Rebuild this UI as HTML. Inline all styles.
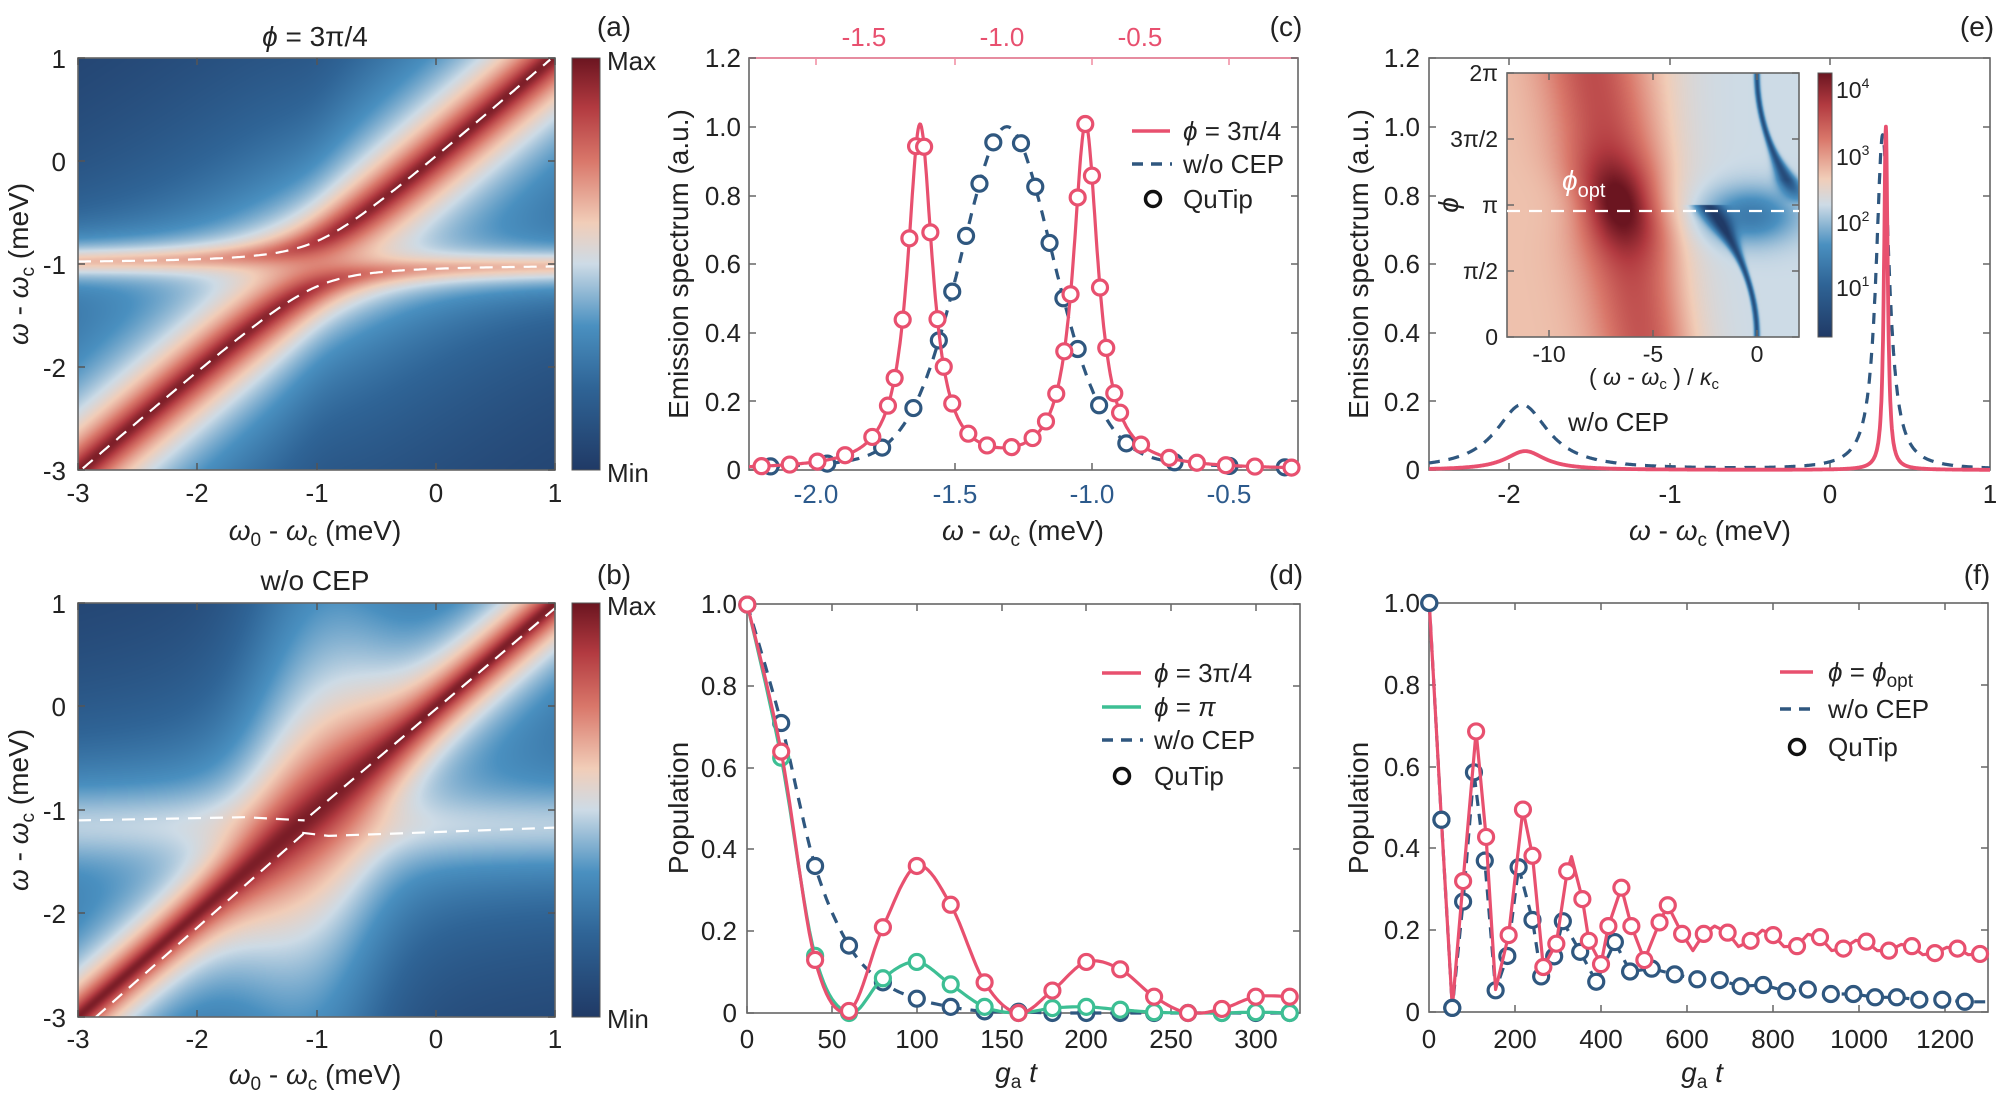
<!DOCTYPE html>
<html><head><meta charset="utf-8">
<style>
html,body{margin:0;padding:0;background:#fff;}
#wrap{position:relative;width:2000px;height:1095px;overflow:hidden;}
canvas{position:absolute;}
svg{position:absolute;left:0;top:0;}
text{font-family:"Liberation Sans",Arial,sans-serif;fill:#222;}
.t{font-size:26px;}
.l{font-size:28px;}
.s{font-size:23px;}
</style></head><body>
<div id="wrap">
<canvas id="ca" width="477" height="412" style="left:78px;top:58px"></canvas>
<canvas id="cb" width="477" height="414" style="left:78px;top:603px"></canvas>
<canvas id="ci" width="292" height="264" style="left:1507px;top:73px"></canvas>
<svg id="sv" width="2000" height="1095" viewBox="0 0 2000 1095">
<defs>
<linearGradient id="cmap" x1="0" y1="1" x2="0" y2="0">
<stop offset="0" stop-color="#203a66"/><stop offset="0.2" stop-color="#2f6496"/>
<stop offset="0.35" stop-color="#4a90c0"/><stop offset="0.5" stop-color="#cddbe6"/>
<stop offset="0.6" stop-color="#f1cdb8"/><stop offset="0.75" stop-color="#d9776a"/>
<stop offset="0.88" stop-color="#b23a40"/><stop offset="1" stop-color="#6b1520"/>
</linearGradient>
</defs>
<g id="dyn"></g>
<rect x="572" y="58" width="28" height="412" fill="url(#cmap)" stroke="#555" stroke-width="1"/>
<rect x="572" y="603" width="28" height="414" fill="url(#cmap)" stroke="#555" stroke-width="1"/>
<rect x="1818" y="73" width="14" height="264" fill="url(#cmap)" stroke="#555" stroke-width="1"/>
<text class="l" x="315" y="46" text-anchor="middle"><tspan font-style="italic">ϕ</tspan> = 3π/4</text>
<text class="l" x="614" y="36" text-anchor="middle">(a)</text>
<text class="t" x="607" y="70">Max</text><text class="t" x="607" y="482">Min</text>
<g class="t" text-anchor="end">
<text x="66" y="68">1</text><text x="66" y="171">0</text><text x="66" y="274">-1</text><text x="66" y="377">-2</text><text x="66" y="480">-3</text></g>
<g class="t" text-anchor="middle">
<text x="78" y="502">-3</text><text x="197" y="502">-2</text><text x="317" y="502">-1</text><text x="436" y="502">0</text><text x="555" y="502">1</text></g>
<text class="l" x="315" y="540" text-anchor="middle"><tspan font-style="italic">ω</tspan><tspan font-size="19" dy="6">0</tspan><tspan dy="-6"> - </tspan><tspan font-style="italic">ω</tspan><tspan font-size="19" dy="6">c</tspan><tspan dy="-6"> (meV)</tspan></text>
<text class="l" transform="translate(28,264) rotate(-90)" text-anchor="middle"><tspan font-style="italic">ω</tspan> - <tspan font-style="italic">ω</tspan><tspan font-size="19" dy="6">c</tspan><tspan dy="-6"> (meV)</tspan></text>
<text class="l" x="315" y="590" text-anchor="middle">w/o CEP</text>
<text class="l" x="614" y="584" text-anchor="middle">(b)</text>
<text class="t" x="607" y="615">Max</text><text class="t" x="607" y="1028">Min</text>
<g class="t" text-anchor="end">
<text x="66" y="613">1</text><text x="66" y="716">0</text><text x="66" y="820">-1</text><text x="66" y="923">-2</text><text x="66" y="1027">-3</text></g>
<g class="t" text-anchor="middle">
<text x="78" y="1048">-3</text><text x="197" y="1048">-2</text><text x="317" y="1048">-1</text><text x="436" y="1048">0</text><text x="555" y="1048">1</text></g>
<text class="l" x="315" y="1084" text-anchor="middle"><tspan font-style="italic">ω</tspan><tspan font-size="19" dy="6">0</tspan><tspan dy="-6"> - </tspan><tspan font-style="italic">ω</tspan><tspan font-size="19" dy="6">c</tspan><tspan dy="-6"> (meV)</tspan></text>
<text class="l" transform="translate(28,810) rotate(-90)" text-anchor="middle"><tspan font-style="italic">ω</tspan> - <tspan font-style="italic">ω</tspan><tspan font-size="19" dy="6">c</tspan><tspan dy="-6"> (meV)</tspan></text>
<text class="l" x="1286" y="36" text-anchor="middle">(c)</text>
<g class="t" text-anchor="end">
<text x="741" y="67">1.2</text><text x="741" y="136">1.0</text><text x="741" y="205">0.8</text><text x="741" y="273">0.6</text><text x="741" y="342">0.4</text><text x="741" y="411">0.2</text><text x="741" y="479">0</text></g>
<g class="t" text-anchor="middle">
<text x="816" y="503" style="fill:#2c5a8c">-2.0</text><text x="955" y="503" style="fill:#2c5a8c">-1.5</text><text x="1092" y="503" style="fill:#2c5a8c">-1.0</text><text x="1229" y="503" style="fill:#2c5a8c">-0.5</text></g>
<g class="t" text-anchor="middle">
<text x="864" y="46" style="fill:#e8506f">-1.5</text><text x="1002" y="46" style="fill:#e8506f">-1.0</text><text x="1140" y="46" style="fill:#e8506f">-0.5</text></g>
<text class="l" x="1023" y="540" text-anchor="middle"><tspan font-style="italic">ω</tspan> - <tspan font-style="italic">ω</tspan><tspan font-size="19" dy="6">c</tspan><tspan dy="-6"> (meV)</tspan></text>
<text class="l" transform="translate(688,264) rotate(-90)" text-anchor="middle">Emission spectrum (a.u.)</text>
<text class="t" x="1183" y="140"><tspan font-style="italic">ϕ</tspan> = 3π/4</text>
<text class="t" x="1183" y="173">w/o CEP</text>
<text class="t" x="1183" y="208">QuTip</text>
<text class="l" x="1977" y="36" text-anchor="middle">(e)</text>
<g class="t" text-anchor="end">
<text x="1420" y="67">1.2</text><text x="1420" y="136">1.0</text><text x="1420" y="205">0.8</text><text x="1420" y="273">0.6</text><text x="1420" y="342">0.4</text><text x="1420" y="411">0.2</text><text x="1420" y="479">0</text></g>
<g class="t" text-anchor="middle">
<text x="1509" y="503">-2</text><text x="1670" y="503">-1</text><text x="1830" y="503">0</text><text x="1990" y="503">1</text></g>
<text class="l" x="1710" y="540" text-anchor="middle"><tspan font-style="italic">ω</tspan> - <tspan font-style="italic">ω</tspan><tspan font-size="19" dy="6">c</tspan><tspan dy="-6"> (meV)</tspan></text>
<text class="l" transform="translate(1368,264) rotate(-90)" text-anchor="middle">Emission spectrum (a.u.)</text>
<text class="t" x="1568" y="431">w/o CEP</text>
<g class="s" text-anchor="end">
<text x="1498" y="81">2π</text><text x="1498" y="147">3π/2</text><text x="1498" y="213">π</text><text x="1498" y="279">π/2</text><text x="1498" y="345">0</text></g>
<text class="l" transform="translate(1458,205) rotate(-90)" text-anchor="middle" font-style="italic">ϕ</text>
<g class="s" text-anchor="middle">
<text x="1549" y="362">-10</text><text x="1653" y="362">-5</text><text x="1757" y="362">0</text></g>
<text class="s" x="1654" y="385" text-anchor="middle">( <tspan font-style="italic">ω</tspan> - <tspan font-style="italic">ω</tspan><tspan font-size="15" dy="4">c</tspan><tspan dy="-4"> ) / </tspan><tspan font-style="italic">κ</tspan><tspan font-size="15" dy="4">c</tspan></text>
<text class="l" x="1562" y="190" style="fill:#fff"><tspan font-style="italic" style="fill:#fff">ϕ</tspan><tspan font-size="20" dy="7" style="fill:#fff">opt</tspan></text>
<g class="s">
<text x="1836" y="98">10<tspan font-size="14" dy="-10">4</tspan></text>
<text x="1836" y="165">10<tspan font-size="14" dy="-10">3</tspan></text>
<text x="1836" y="231">10<tspan font-size="14" dy="-10">2</tspan></text>
<text x="1836" y="296">10<tspan font-size="14" dy="-10">1</tspan></text></g>
<text class="l" x="1286" y="584" text-anchor="middle">(d)</text>
<g class="t" text-anchor="end">
<text x="737" y="613">1.0</text><text x="737" y="695">0.8</text><text x="737" y="777">0.6</text><text x="737" y="858">0.4</text><text x="737" y="940">0.2</text><text x="737" y="1022">0</text></g>
<g class="t" text-anchor="middle">
<text x="747" y="1048">0</text><text x="832" y="1048">50</text><text x="917" y="1048">100</text><text x="1002" y="1048">150</text><text x="1086" y="1048">200</text><text x="1171" y="1048">250</text><text x="1256" y="1048">300</text></g>
<text class="l" x="1016" y="1082" text-anchor="middle"><tspan font-style="italic">g</tspan><tspan font-size="19" dy="6">a</tspan><tspan dy="-6" font-style="italic"> t</tspan></text>
<text class="l" transform="translate(688,808) rotate(-90)" text-anchor="middle">Population</text>
<text class="t" x="1154" y="682"><tspan font-style="italic">ϕ</tspan> = 3π/4</text>
<text class="t" x="1154" y="716"><tspan font-style="italic">ϕ</tspan> = <tspan font-style="italic">π</tspan></text>
<text class="t" x="1154" y="749">w/o CEP</text>
<text class="t" x="1154" y="785">QuTip</text>
<text class="l" x="1977" y="584" text-anchor="middle">(f)</text>
<g class="t" text-anchor="end">
<text x="1420" y="612">1.0</text><text x="1420" y="694">0.8</text><text x="1420" y="776">0.6</text><text x="1420" y="857">0.4</text><text x="1420" y="939">0.2</text><text x="1420" y="1021">0</text></g>
<g class="t" text-anchor="middle">
<text x="1429" y="1048">0</text><text x="1515" y="1048">200</text><text x="1601" y="1048">400</text><text x="1687" y="1048">600</text><text x="1773" y="1048">800</text><text x="1859" y="1048">1000</text><text x="1945" y="1048">1200</text></g>
<text class="l" x="1702" y="1082" text-anchor="middle"><tspan font-style="italic">g</tspan><tspan font-size="19" dy="6">a</tspan><tspan dy="-6" font-style="italic"> t</tspan></text>
<text class="l" transform="translate(1368,808) rotate(-90)" text-anchor="middle">Population</text>
<text class="t" x="1828" y="681"><tspan font-style="italic">ϕ</tspan> = <tspan font-style="italic">ϕ</tspan><tspan font-size="19" dy="6">opt</tspan></text>
<text class="t" x="1828" y="718">w/o CEP</text>
<text class="t" x="1828" y="756">QuTip</text>
</svg>
</div>
<script>
(function(){
var stops=[[0,[32,58,102]],[0.2,[47,100,150]],[0.35,[74,144,192]],[0.5,[205,219,230]],[0.6,[241,205,184]],[0.75,[217,119,106]],[0.88,[178,58,64]],[1,[107,21,32]]];
function cm(v){if(v<0)v=0;if(v>1)v=1;for(var i=1;i<stops.length;i++){if(v<=stops[i][0]){var a=stops[i-1],b=stops[i],t=(v-a[0])/(b[0]-a[0]);return [a[1][0]+t*(b[1][0]-a[1][0]),a[1][1]+t*(b[1][1]-a[1][1]),a[1][2]+t*(b[1][2]-a[1][2])];}}return stops[7][1];}
function paint(id,fn){var c=document.getElementById(id),ctx=c.getContext('2d'),W=c.width,H=c.height,im=ctx.createImageData(W,H);for(var j=0;j<H;j++)for(var i=0;i<W;i++){var col=cm(fn(i/(W-1),j/(H-1)));var k=(j*W+i)*4;im.data[k]=col[0];im.data[k+1]=col[1];im.data[k+2]=col[2];im.data[k+3]=255;}ctx.putImageData(im,0,0);}
function L(d,g){return g*g/(d*d+g*g);}
var g=0.22,e=-1;
function branches(x){var m=(x+e)/2,r=Math.sqrt(Math.pow((x-e)/2,2)+g*g);var Ep=m+r,Em=m-r;
 var cp=(Ep-e)*(Ep-e)/((Ep-e)*(Ep-e)+g*g),cmn=(Em-e)*(Em-e)/((Em-e)*(Em-e)+g*g);return [[Ep,cp],[Em,cmn]];}
function lv(I){return 0.97+0.333*Math.log(I+0.0008)/Math.LN10;}
paint('ca',function(u,v){var x=-3+4*u,y=1-4*v;var br=branches(x),I=0;
 for(var k=0;k<2;k++){var E=br[k][0],c=br[k][1];I+=(0.08+0.92*c)*L(y-E,0.08+0.04*c);}
 return lv(I);});
paint('cb',function(u,v){var x=-3+4*u,y=1-4*v;var gw=0.09+0.13*Math.exp(-(x+1)*(x+1)/0.4);
 var I=L(y-x,gw)+0.03*L(y+1.15,0.3);return lv(I);});
paint('ci',function(u,v){var x=-12+14*u,ph=2*Math.PI*(1-v),s=ph-Math.PI;
 var base=0.5+0.12/(1+Math.exp((x+4)/0.8));
 var xr=-6.6-0.4*s;var r=Math.exp(-Math.pow((x-xr)/(1.9+0.5*(1-Math.exp(-s*s))),2));
 var val=base+r*(0.22+0.2*Math.exp(-s*s/1.2));
 var xd=s<0?-0.24*Math.pow(s+Math.PI,2):2.2*Math.pow((Math.PI-s)/Math.PI,2);
 var wd=0.12+0.5*Math.exp(-s*s/0.8);
 if(x>-4.5){var dip=Math.exp(-Math.pow((x-xd)/wd,2));val-=0.4*dip*(s<0?1:Math.min(1,s/0.6));
 val-=0.22*Math.exp(-Math.pow((x+0.3)/2.2,2)-Math.pow((s+0.25)/0.65,2))*(x>-3?1:Math.exp(-(x+3)*(x+3)));}
 return val;});
var NS='http://www.w3.org/2000/svg',dyn=document.getElementById('dyn');
function el(t,a){var e=document.createElementNS(NS,t);for(var k in a)e.setAttribute(k,a[k]);dyn.appendChild(e);return e;}
function pl(pts,st,w,dash){var d='';for(var i=0;i<pts.length;i++)d+=(i?'L':'M')+pts[i][0].toFixed(1)+' '+pts[i][1].toFixed(1);var a={d:d,fill:'none',stroke:st,'stroke-width':w,'stroke-linejoin':'round'};if(dash)a['stroke-dasharray']=dash;return el('path',a);}
function circ(x,y,c){el('circle',{cx:x,cy:y,r:7.5,fill:'#fff',stroke:c,'stroke-width':3.2});}
function frame(x0,y0,x1,y1,xt,yt,tc,topc){el('rect',{x:x0,y:y0,width:x1-x0,height:y1-y0,fill:'none',stroke:'#666','stroke-width':1.6});
 if(topc)el('line',{x1:x0,y1:y0,x2:x1,y2:y0,stroke:topc,'stroke-width':1.8});
 xt.forEach(function(x){el('line',{x1:x,y1:y1,x2:x,y2:y1-7,stroke:tc||'#666','stroke-width':1.5});el('line',{x1:x,y1:y0,x2:x,y2:y0+7,stroke:topc||tc||'#666','stroke-width':1.5});});
 yt.forEach(function(y){el('line',{x1:x0,y1:y,x2:x0+7,y2:y,stroke:tc||'#666','stroke-width':1.5});el('line',{x1:x1,y1:y,x2:x1-7,y2:y,stroke:tc||'#666','stroke-width':1.5});});}
var PK='#e8506f',BL='#2f577f',GR='#3dbf94';
function mapA(x,y){return [78+(x+3)*119.25,58+(1-y)*103];}
var up=[],lo=[];for(var x=-3;x<=1.0001;x+=0.02){var b=branches(x);up.push(mapA(x,b[0][0]));lo.push(mapA(x,b[1][0]));}
up=up.filter(function(p){return p[1]>=58;});lo=lo.filter(function(p){return p[1]<=470;});
pl(up,'#fff',2.2,'13 9');pl(lo,'#fff',2.2,'13 9');
function mapB(x,y){return [78+(x+3)*119.25,603+(1-y)*103.5];}
pl([mapB(-2.85,-3),mapB(-1.08,-1.2)],'#fff',2.2,'13 9');
pl([mapB(-3,-1.1),mapB(-1.6,-1.07),mapB(-1.1,-1.1)],'#fff',2.2,'13 9');
pl([mapB(-1.12,-1.22),mapB(-0.9,-1.25),mapB(-0.4,-1.23),mapB(1,-1.17)],'#fff',2.2,'13 9');
pl([mapB(-1.05,-1.05),mapB(1,0.95)],'#fff',2.2,'13 9');
frame(78,58,555,470,[78,197,317,436,555],[58,161,264,367,470],'#555');
frame(78,603,555,1017,[78,197,317,436,555],[603,706,810,913,1017],'#555');
function cx(v){return 749+(v+2.244)*275;}function cy(f){return 470-f*343.3;}
function fp(v){return L(v+1.622,0.055)+L(v+1.02,0.055);}
function fb(v){var d=v+1.306;return 0.75*Math.exp(-d*d/(2*0.18*0.18))+0.25*L(d,0.18);}
frame(749,58,1298,470,[816,955,1092,1229],[58,127,196,264,333,401,470],null,'#f08aa0');
var pb=[],pp=[];for(var v=-2.244;v<=-0.25;v+=0.003){pb.push([cx(v),cy(fb(v))]);pp.push([cx(v),cy(fp(v))]);}
pl(pb,BL,3.2,'11 9');
[270,397,520,590,647,677,708,738,769,831,863,895,926,958,1006,1067,1175,1298,1422].forEach(function(z){var px=z/2.24+650,v=(px-749)/275-2.244;circ(px,cy(fb(v)),BL);});
pl(pp,PK,3.2);
[250,313,375,437,498,533,548,566,581,596,614,628,644,658,677,713,755,810,857,887,910,928,942,958,975,990,1008,1022,1040,1053,1100,1163,1225,1290,1355,1437].forEach(function(z){var px=z/2.24+650,v=(px-749)/275-2.244;circ(px,cy(fp(v)),PK);});
pl([[1132,131],[1170,131]],PK,3.5);pl([[1132,164],[1172,164]],BL,3.5,'11 8');
el('circle',{cx:1153,cy:199,r:7.5,fill:'#fff',stroke:'#111','stroke-width':3.5});
function ex(v){return 1429+(v+2.5)*160.3;}
frame(1429,58,1990,470,[1509,1670,1830],[58,127,196,264,333,401,470]);
var eb=[],ep=[];for(var v=-2.5;v<=1;v+=0.002){var fbv=0.19*L(v+1.92,0.2)+0.975*L(v-0.33,0.05);var fpv=0.055*L(v+1.9,0.15)+1.0*L(v-0.35,0.014);eb.push([ex(v),cy(fbv)]);ep.push([ex(v),cy(fpv)]);}
pl(eb,BL,3.2,'11 9');pl(ep,PK,3.8);
frame(1507,73,1799,337,[1549,1653,1757],[73,139,205,271,337],'#666');
pl([[1507,211],[1799,211]],'#fff',2.2,'13 9');
function dx(t){return 747.3+t*1.695;}function dy(p){return 1013-408.4*p;}
frame(747,604,1300,1013,[747,832,917,1002,1086,1171,1256],[604,686,768,849,931,1013]);
function cr(pts,n){var out=[];for(var i=0;i<pts.length-1;i++){var p0=pts[Math.max(0,i-1)],p1=pts[i],p2=pts[i+1],p3=pts[Math.min(pts.length-1,i+2)];for(var k=0;k<n;k++){var t=k/n,t2=t*t,t3=t2*t;var f=function(a,b,c,d){return 0.5*(2*b+(-a+c)*t+(2*a-5*b+4*c-d)*t2+(-a+3*b-3*c+d)*t3);};out.push([f(p0[0],p1[0],p2[0],p3[0]),Math.max(0,f(p0[1],p1[1],p2[1],p3[1]))]);}}out.push(pts[pts.length-1]);return out;}
var T=[0,20,40,60,80,100,120,140,160,180,200,220,240,260,280,300,320];
var P=[1,0.64,0.13,0.005,0.21,0.36,0.265,0.075,0,0.055,0.125,0.107,0.04,0,0.01,0.04,0.04];
var G=[1,0.625,0.14,0,0.085,0.125,0.07,0.015,0,0.012,0.015,0.008,0.002,0,0,0.002,0];
var B=[1,0.71,0.36,0.165,0.075,0.035,0.015,0.004,0.003,0,0,0,0,0,0,0,0];
function curve(Y){var pts=T.map(function(t,i){return [t,Y[i]];});return cr(pts,12).map(function(p){return [dx(p[0]),dy(p[1])];});}
pl(curve(B),BL,3.2,'11 9');T.forEach(function(t,i){circ(dx(t),dy(B[i]),BL);});
pl(curve(G),GR,3.2);T.forEach(function(t,i){circ(dx(t),dy(G[i]),GR);});
pl(curve(P),PK,3.2);T.forEach(function(t,i){circ(dx(t),dy(P[i]),PK);});
pl([[1102,673],[1141,673]],PK,3.5);pl([[1102,707],[1141,707]],GR,3.5);pl([[1102,740],[1143,740]],BL,3.5,'11 8');
el('circle',{cx:1122,cy:776,r:7.5,fill:'#fff',stroke:'#111','stroke-width':3.5});
function fx(z){return z/2.306+1320;}function fy(p){return 1012-409*p;}
frame(1429,603,1988,1012,[1515,1601,1687,1773,1859,1945],[603,685,767,848,930,1012]);
var bz=[[252,1],[280,.47],[305,.01],[330,.27],[355,.586],[380,.37],[405,.053],[432,.137],[458,.354],[490,.225],[510,.087],[540,.136],[560,.222],[600,.147],[637,.074],[680,.171],[715,.099],[765,.106],[818,.092],[870,.08],[922,.078],[970,.063],[1022,.066],[1075,.051],[1125,.055],[1178,.044],[1230,.044],[1280,.036],[1330,.036],[1382,.03],[1435,.03],[1487,.025],[1540,.025]];
var pz=[[252,1],[280,.47],[305,.01],[330,.32],[360,.686],[383,.428],[405,.055],[435,.188],[468,.495],[490,.382],[515,.11],[545,.167],[570,.344],[580,.38],[605,.276],[620,.174],[648,.117],[665,.21],[695,.304],[718,.21],[748,.127],[783,.219],[802,.261],[835,.191],[860,.15],[885,.191],[910,.21],[940,.194],[965,.16],[993,.174],[1020,.2],[1045,.188],[1070,.16],[1100,.161],[1125,.19],[1153,.183],[1180,.15],[1207,.155],[1235,.175],[1260,.172],[1285,.15],[1312,.15],[1340,.165],[1365,.161],[1390,.14],[1418,.144],[1445,.158],[1470,.155],[1495,.14],[1522,.142],[1540,.145]];
pl(bz.map(function(p){return [fx(p[0]),fy(p[1])];}),BL,3.2,'11 8');
bz.slice(0,32).forEach(function(p){circ(fx(p[0]),fy(p[1]),BL);});
pl(pz.map(function(p){return [fx(p[0]),fy(p[1])];}),PK,3.2);
[[330,.32],[360,.686],[383,.428],[435,.188],[468,.495],[490,.382],[515,.11],[545,.167],[570,.344],[605,.276],[620,.174],[648,.117],[665,.21],[695,.304],[718,.21],[748,.127],[783,.219],[802,.261],[835,.191],[885,.191],[940,.194],[993,.174],[1045,.188],[1100,.161],[1153,.183],[1207,.155],[1260,.172],[1312,.15],[1365,.161],[1418,.144],[1470,.155],[1522,.142]].forEach(function(p){circ(fx(p[0]),fy(p[1]),PK);});
[[252,1],[280,.47],[305,.01]].forEach(function(p){circ(fx(p[0]),fy(p[1]),BL);});
pl([[1780,672],[1813,672]],PK,3.5);pl([[1780,709],[1815,709]],BL,3.5,'11 8');
el('circle',{cx:1797,cy:747,r:7.5,fill:'#fff',stroke:'#111','stroke-width':3.5});
})();
</script>
</body></html>
